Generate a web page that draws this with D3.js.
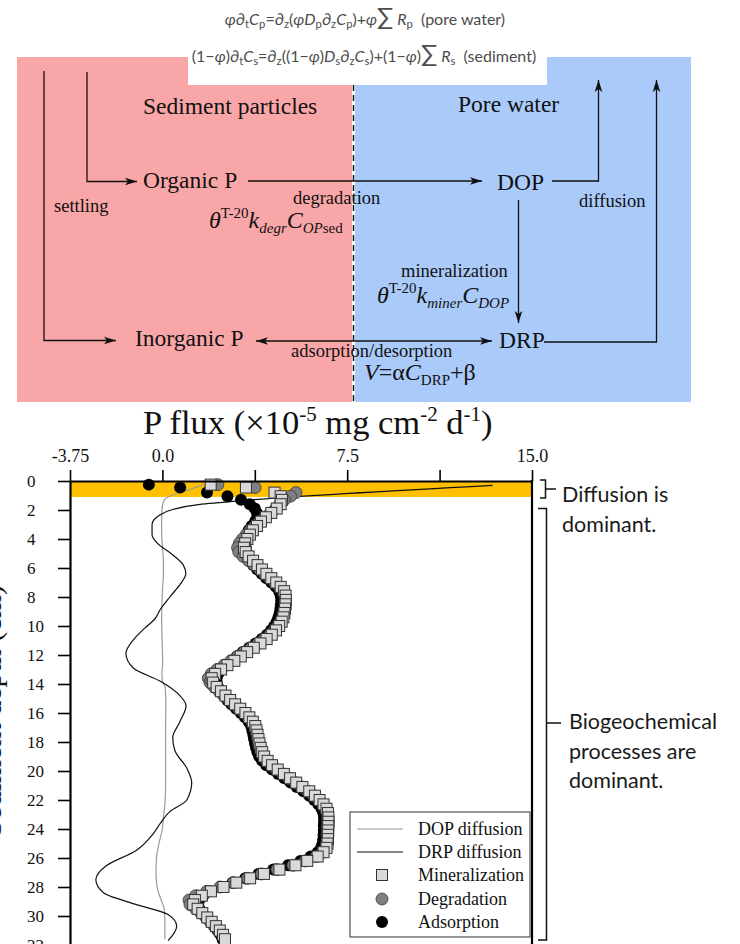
<!DOCTYPE html>
<html>
<head>
<meta charset="utf-8">
<script src="https://cdn.jsdelivr.net/npm/d3@7"></script>
<style>
body { margin: 0; background: #fff; }
svg text { font-family: "Liberation Serif", "Times New Roman", serif; fill: #111; }
</style>
</head>
<body>
<div id="chart"></div>
<script>
// depth of each model layer (cm)
var depth = [0.25, 0.45, 0.8, 1.05,
  1.3, 1.6, 1.9, 2.2, 2.5, 2.8, 3.1, 3.4, 3.7, 4.0,
  4.3, 4.6, 4.9, 5.2, 5.5, 5.8, 6.1, 6.4, 6.7, 7.0,
  7.3, 7.6, 7.9, 8.2, 8.5, 8.8, 9.1, 9.4, 9.7, 10.0,
  10.3, 10.6, 10.9, 11.2, 11.5, 11.8, 12.1, 12.4, 12.7, 13.0,
  13.3, 13.6, 13.9, 14.2, 14.5, 14.8, 15.1, 15.4, 15.7, 16.0,
  16.3, 16.6, 16.9, 17.2, 17.5, 17.8, 18.1, 18.4, 18.7, 19.0,
  19.3, 19.6, 19.9, 20.2, 20.5, 20.8, 21.1, 21.4, 21.7, 22.0,
  22.3, 22.6, 22.9, 23.2, 23.5, 23.8, 24.1, 24.4, 24.7, 25.0,
  25.3, 25.6, 25.9, 26.2, 26.5, 26.8, 27.1, 27.4, 27.7, 28.0,
  28.3, 28.6, 28.9, 29.2, 29.5, 29.8, 30.1, 30.4, 30.7, 31.0,
  31.3, 31.6];

var mineralization = [1.96, 3.39, 4.55, 4.8,
  4.85, 4.8, 4.64, 4.42, 4.2, 4.0, 3.84, 3.67, 3.55, 3.45,
  3.36, 3.31, 3.38, 3.5, 3.68, 3.86, 4.04, 4.22, 4.42, 4.62,
  4.8, 4.94, 5.0, 5.01, 5.0, 4.98, 4.95, 4.91, 4.84, 4.74,
  4.61, 4.44, 4.23, 3.98, 3.71, 3.44, 3.18, 2.92, 2.64, 2.38,
  2.14, 2.0, 2.06, 2.2, 2.38, 2.56, 2.75, 2.95, 3.16, 3.37,
  3.53, 3.67, 3.77, 3.82, 3.86, 3.9, 3.94, 3.99, 4.05, 4.13,
  4.27, 4.45, 4.68, 4.93, 5.18, 5.43, 5.68, 5.96, 6.19, 6.38,
  6.54, 6.66, 6.72, 6.74, 6.74, 6.73, 6.73, 6.72, 6.72, 6.7,
  6.66, 6.54, 6.3, 5.88, 5.4, 4.75, 4.12, 3.56, 3.0, 2.48,
  1.97, 1.6, 1.32, 1.25, 1.43, 1.62, 1.82, 2.0, 2.17, 2.33,
  2.46, 2.54];

var degradation = [2.25, 3.76, 5.42, 5.2,
  4.95, 4.78, 4.6, 4.38, 4.15, 3.94, 3.76, 3.57, 3.4, 3.25,
  3.12, 3.05, 3.1, 3.28, 3.5, 3.72, 3.95, 4.15, 4.36, 4.56,
  4.75, 4.9, 4.97, 4.99, 4.98, 4.96, 4.93, 4.88, 4.8, 4.69,
  4.55, 4.37, 4.14, 3.88, 3.6, 3.32, 3.05, 2.78, 2.5, 2.22,
  1.98, 1.86, 1.93, 2.1, 2.3, 2.5, 2.7, 2.9, 3.1, 3.32,
  3.5, 3.64, 3.74, 3.8, 3.84, 3.88, 3.92, 3.97, 4.03, 4.11,
  4.24, 4.41, 4.63, 4.88, 5.13, 5.38, 5.63, 5.9, 6.14, 6.34,
  6.5, 6.62, 6.69, 6.71, 6.71, 6.7, 6.7, 6.69, 6.69, 6.67,
  6.63, 6.5, 6.24, 5.8, 5.3, 4.65, 4.02, 3.45, 2.88, 2.34,
  1.8, 1.35, 1.08, 1.12, 1.35, 1.56, 1.77, 1.95, 2.12, 2.29,
  2.43, 2.52];

var adsorption = [-0.55, 0.72, 1.81, 2.64,
  3.19, 3.55, 3.75, 3.84, 3.85, 3.76, 3.62, 3.5, 3.42, 3.38,
  3.36, 3.38, 3.4, 3.42, 3.52, 3.68, 3.85, 4.03, 4.22, 4.42,
  4.6, 4.74, 4.8, 4.82, 4.81, 4.79, 4.76, 4.71, 4.64, 4.54,
  4.41, 4.24, 4.03, 3.78, 3.52, 3.26, 3.02, 2.8, 2.58, 2.4,
  2.27, 2.2, 2.2, 2.26, 2.36, 2.48, 2.63, 2.8, 2.99, 3.18,
  3.35, 3.5, 3.6, 3.65, 3.69, 3.72, 3.76, 3.8, 3.86, 3.93,
  4.05, 4.22, 4.45, 4.7, 4.95, 5.2, 5.45, 5.72, 5.96, 6.16,
  6.33, 6.46, 6.53, 6.56, 6.56, 6.55, 6.55, 6.54, 6.53, 6.5,
  6.44, 6.3, 6.02, 5.6, 5.1, 4.5, 3.9, 3.36, 2.84, 2.36,
  1.95, 1.66, 1.5, 1.45, 1.5, 1.62, 1.78, 1.94, 2.1, 2.24,
  2.36, 2.44];

var dopDepth = [0.25, 0.5, 0.8, 1.05, 1.3, 1.7, 2.5, 3.5, 4.5, 5.5, 6.5, 7.5, 8.5, 9.5, 10.5, 11.5, 12.5,
  13.3, 13.8, 14.3, 15.5, 17, 19, 21, 22.3, 23.2, 24, 25, 26, 27, 28, 28.8, 29.5, 30.5, 31.6];
var dopFlux = [1.7, 1.25, 0.7, 0.3, 0.08, 0.0, -0.03, -0.03, 0.0, 0.04, 0.04, 0.0, -0.02, -0.03, -0.02, 0.0, 0.01,
  -0.02, 0.0, 0.12, 0.14, 0.13, 0.13, 0.13, 0.1, 0.04, 0.0, -0.14, -0.24, -0.26, -0.22, -0.07, 0.07, 0.1, 0.1];

var drpDepth = [0.3, 1.3, 1.6, 1.95, 2.4, 3.0, 3.7, 4.3, 5.0, 5.8, 6.4, 7.1, 8.0, 8.9, 9.5, 10.2, 10.9, 11.9, 12.9, 13.8,
  14.8, 15.5, 16.6, 17.7, 18.6, 19.8, 20.8, 22.0, 22.8, 23.6, 24.3, 25.5, 26.5, 27.5, 28.4, 29.2, 29.9, 30.7, 31.7];
var drpFlux = [13.4, 3.6, 1.6, 0.45, -0.15, -0.42, -0.42, -0.2, 0.35, 0.85, 0.95, 0.73, 0.3, -0.1, -0.3, -0.75, -1.15, -1.48, -1.18, -0.1,
  0.71, 0.96, 0.71, 0.42, 0.51, 0.99, 1.19, 0.99, 0.3, -0.08, -0.36, -1.08, -2.25, -2.7, -2.39, -1.08, 0.23, 0.58, 0.23];

var xTicks = [-3.75, 0, 3.75, 7.5, 11.25, 15];
var xTickLabels = ["-3.75", "0.0", "", "7.5", "", "15.0"];
var yTicks = [0, 2, 4, 6, 8, 10, 12, 14, 16, 18, 20, 22, 24, 26, 28, 30, 32];
var bandDepth = [0, 1.1];
var legendLabels = ["DOP diffusion", "DRP diffusion", "Mineralization", "Degradation", "Adsorption"];

var w = 740, h = 944;
var svg = d3.select("#chart").append("svg").attr("width", w).attr("height", h);

svg.append("defs").append("marker")
  .attr("id", "arrow")
  .attr("viewBox", "-13 -5 14 10")
  .attr("refX", 0).attr("refY", 0)
  .attr("markerWidth", 14).attr("markerHeight", 10)
  .attr("markerUnits", "userSpaceOnUse")
  .attr("orient", "auto-start-reverse")
  .append("path")
  .attr("d", "M0,0 L-12,-3.8 L-9,0 L-12,3.8 Z")
  .attr("fill", "#111");

// ---------- process diagram ----------
var dg = svg.append("g");
dg.append("rect").attr("x", 17).attr("y", 57).attr("width", 335).attr("height", 345).attr("fill", "#F9A6A8");
dg.append("rect").attr("x", 355).attr("y", 57).attr("width", 336).attr("height", 345).attr("fill", "#AACAFA");
dg.append("rect").attr("x", 188).attr("y", 0).attr("width", 359).attr("height", 85).attr("fill", "#fff");
dg.append("line").attr("x1", 353.5).attr("y1", 85).attr("x2", 353.5).attr("y2", 402)
  .attr("stroke", "#111").attr("stroke-width", 1.5).attr("stroke-dasharray", "6,4");

function mathLine(x, y, size, tokens) {
  var t = dg.append("text").attr("x", x).attr("y", y).attr("text-anchor", "middle")
    .attr("font-size", size).style("font-family", "Lato, sans-serif").style("fill", "#4d4d4d")
    .style("white-space", "pre");
  var shift = 0;
  tokens.forEach(function (tk) {
    var s = t.append("tspan").text(tk[0]);
    var want = tk[1] === "s" ? 3 : 0;
    if (want !== shift) { s.attr("dy", want - shift); shift = want; }
    if (tk[1] === "s") s.attr("font-size", size * 0.7);
    if (tk[1] === "i") s.attr("font-style", "italic");
    if (tk[1] === "b") s.attr("font-size", size * 1.5);
  });
}
mathLine(365, 25, 16, [["φ", "i"], ["∂", ""], ["t", "s"], ["C", "i"], ["p", "s"], ["=∂", ""], ["z", "s"], ["(", ""],
  ["φ", "i"], ["D", "i"], ["p", "s"], ["∂", ""], ["z", "s"], ["C", "i"], ["p", "s"], [")+", ""], ["φ", "i"],
  ["∑", "b"], [" R", "i"], ["p", "s"], ["  (pore water)", ""]]);
mathLine(364, 62, 16, [["(1−", ""], ["φ", "i"], [")∂", ""], ["t", "s"], ["C", "i"], ["s", "s"], ["=∂", ""], ["z", "s"],
  ["((1−", ""], ["φ", "i"], [")", ""], ["D", "i"], ["s", "s"], ["∂", ""], ["z", "s"], ["C", "i"], ["s", "s"],
  [")+(1−", ""], ["φ", "i"], [")", ""], ["∑", "b"], [" R", "i"], ["s", "s"], ["  (sediment)", ""]]);

function arrow(d, both) {
  var p = dg.append("path").attr("d", d).attr("fill", "none")
    .attr("stroke", "#111").attr("stroke-width", 1.3)
    .attr("marker-end", "url(#arrow)");
  if (both) p.attr("marker-start", "url(#arrow)");
}
arrow("M44,71 V340.5 H116");
arrow("M87,72 V181.5 H137");
arrow("M248,181 H482");
arrow("M552,181 H598.5 V80");
arrow("M518.5,200 V323");
arrow("M256,341 H492", true);
arrow("M544,342 H656.5 V80");

function label(x, y, size, txt) {
  dg.append("text").attr("x", x).attr("y", y).attr("font-size", size).text(txt);
}
label(143, 114, 23.5, "Sediment particles");
label(458, 112, 23.5, "Pore water");
label(143, 188, 23.5, "Organic P");
label(497, 190, 23.5, "DOP");
label(135, 346, 23.5, "Inorganic P");
label(499, 348, 23.5, "DRP");
label(54, 212, 18.5, "settling");
label(293, 204, 18.5, "degradation");
label(579, 207, 18.5, "diffusion");
label(401, 277, 18.5, "mineralization");
label(291, 357, 18.5, "adsorption/desorption");

function formula(x, y, parts) {
  var t = dg.append("text").attr("x", x).attr("y", y).attr("font-size", 24);
  parts.forEach(function (p) {
    var s = t.append("tspan").text(p.t);
    if (p.size) s.attr("font-size", p.size);
    if (p.dy) s.attr("dy", p.dy);
    if (p.it) s.attr("font-style", "italic");
  });
}
formula(209, 228, [{ t: "θ", it: 1 }, { t: "T-20", size: 15, dy: -10 }, { t: "k", it: 1, dy: 10 },
  { t: "degr", it: 1, size: 15, dy: 5 }, { t: "C", it: 1, dy: -5 }, { t: "OP", it: 1, size: 15, dy: 5 }, { t: "sed", size: 15 }]);
formula(377, 303, [{ t: "θ", it: 1 }, { t: "T-20", size: 15, dy: -10 }, { t: "k", it: 1, dy: 10 },
  { t: "miner", it: 1, size: 15, dy: 5 }, { t: "C", it: 1, dy: -5 }, { t: "DOP", it: 1, size: 15, dy: 5 }]);
formula(364, 380, [{ t: "V", it: 1 }, { t: "=α" }, { t: "C", it: 1 }, { t: "DRP", size: 15, dy: 5 }, { t: "+β", dy: -5 }]);

// ---------- flux profile ----------
var xScale = d3.scaleLinear().domain([-3.75, 15]).range([70, 532]);
var yScale = d3.scaleLinear().domain([0, 32]).range([481, 945]);

svg.append("text").attr("x", 143).attr("y", 434).attr("font-size", 34.5)
  .call(function (t) {
    t.append("tspan").text("P flux (×10");
    t.append("tspan").attr("font-size", 21).attr("dy", -13).text("-5");
    t.append("tspan").attr("dy", 13).text(" mg cm");
    t.append("tspan").attr("font-size", 21).attr("dy", -13).text("-2");
    t.append("tspan").attr("dy", 13).text(" d");
    t.append("tspan").attr("font-size", 21).attr("dy", -13).text("-1");
    t.append("tspan").attr("dy", 13).text(")");
  });

svg.append("text")
  .attr("transform", "translate(1,585) rotate(-90)")
  .attr("text-anchor", "end").attr("font-size", 30)
  .text("Sediment depth (cm)");

svg.append("rect")
  .attr("x", xScale(-3.75)).attr("y", yScale(bandDepth[0]))
  .attr("width", xScale(15) - xScale(-3.75)).attr("height", yScale(bandDepth[1]) - yScale(bandDepth[0]))
  .attr("fill", "#FFC000");

var dopLine = d3.line().curve(d3.curveMonotoneY)
  .x(function (d, i) { return xScale(dopFlux[i]); })
  .y(function (d) { return yScale(d); });
svg.append("path").datum(dopDepth).attr("d", dopLine)
  .attr("fill", "none").attr("stroke", "#9a9a9a").attr("stroke-width", 1.2);

var drpLine = d3.line().curve(d3.curveMonotoneY)
  .x(function (d, i) { return xScale(drpFlux[i]); })
  .y(function (d) { return yScale(d); });
svg.append("path").datum(drpDepth).attr("d", drpLine)
  .attr("fill", "none").attr("stroke", "#111").attr("stroke-width", 1.2);

svg.append("g").selectAll("circle").data(depth).enter().append("circle")
  .attr("cx", function (d, i) { return xScale(adsorption[i]); })
  .attr("cy", function (d) { return yScale(d); })
  .attr("r", 6).attr("fill", "#000");

svg.append("g").selectAll("circle").data(depth).enter().append("circle")
  .attr("cx", function (d, i) { return xScale(degradation[i]); })
  .attr("cy", function (d) { return yScale(d); })
  .attr("r", 6).attr("fill", "#7f7f7f").attr("stroke", "#3a3a3a").attr("stroke-width", 0.8);

svg.append("g").selectAll("rect").data(depth).enter().append("rect")
  .attr("x", function (d, i) { return xScale(mineralization[i]) - 5.5; })
  .attr("y", function (d) { return yScale(d) - 5.5; })
  .attr("width", 11).attr("height", 11)
  .attr("fill", "#d9d9d9").attr("stroke", "#333").attr("stroke-width", 1);

// axes
var xAxis = d3.axisTop(xScale).tickValues(xTicks).tickSize(11).tickSizeOuter(0).tickPadding(8)
  .tickFormat(function (d, i) { return xTickLabels[i]; });
var gx = svg.append("g").attr("transform", "translate(0," + yScale(0) + ")").call(xAxis);
var yAxis = d3.axisLeft(yScale).tickValues(yTicks).tickSize(12).tickSizeOuter(0);
var gy = svg.append("g").attr("transform", "translate(" + xScale(-3.75) + ",0)").call(yAxis);
[gx, gy].forEach(function (g) {
  g.select(".domain").attr("stroke", "#000").attr("stroke-width", 2.2);
  g.selectAll(".tick line").attr("stroke", "#000").attr("stroke-width", 1.6);
  g.selectAll(".tick text").attr("font-family", null).style("fill", "#111");
});
gx.selectAll(".tick text").attr("font-size", 18);
gy.selectAll(".tick text").attr("font-size", 17).attr("text-anchor", "start").attr("x", -43);

svg.append("line").attr("x1", xScale(15)).attr("x2", xScale(15))
  .attr("y1", yScale(0) - 1).attr("y2", h)
  .attr("stroke", "#000").attr("stroke-width", 2.2);

// legend
var lg = svg.append("g");
lg.append("rect").attr("x", 350).attr("y", 812).attr("width", 180).attr("height", 125)
  .attr("fill", "#fff").attr("stroke", "#333").attr("stroke-width", 1);
var rowY = [829, 852, 875, 899, 922];
lg.append("line").attr("x1", 357).attr("x2", 403).attr("y1", rowY[0]).attr("y2", rowY[0])
  .attr("stroke", "#9a9a9a").attr("stroke-width", 1.2);
lg.append("line").attr("x1", 357).attr("x2", 403).attr("y1", rowY[1]).attr("y2", rowY[1])
  .attr("stroke", "#111").attr("stroke-width", 1.2);
lg.append("rect").attr("x", 376.5).attr("y", rowY[2] - 5.5).attr("width", 11).attr("height", 11)
  .attr("fill", "#d9d9d9").attr("stroke", "#333");
lg.append("circle").attr("cx", 382).attr("cy", rowY[3]).attr("r", 6)
  .attr("fill", "#7f7f7f").attr("stroke", "#3a3a3a").attr("stroke-width", 0.8);
lg.append("circle").attr("cx", 382).attr("cy", rowY[4]).attr("r", 6).attr("fill", "#000");
lg.selectAll("text").data(legendLabels).enter().append("text")
  .attr("x", 418).attr("y", function (d, i) { return rowY[i] + 6; })
  .attr("font-size", 18).text(function (d) { return d; });

// brackets and notes
var note = svg.append("g");
note.append("path").attr("d", "M540,480 H545.5 V498 H540 M545.5,489 H556")
  .attr("fill", "none").attr("stroke", "#111").attr("stroke-width", 1.5);
note.append("path").attr("d", "M538,508.5 H546.5 V940 H538 M546.5,723 H561")
  .attr("fill", "none").attr("stroke", "#111").attr("stroke-width", 1.5);
function noteText(x, y, txt) {
  note.append("text").attr("x", x).attr("y", y).attr("font-size", 21.5)
    .style("font-family", "Lato, sans-serif").style("fill", "#1a1a1a").text(txt);
}
noteText(562, 502, "Diffusion is");
noteText(562, 532, "dominant.");
noteText(569, 729, "Biogeochemical");
noteText(569, 759, "processes are");
noteText(569, 788, "dominant.");
</script>
</body>
</html>
